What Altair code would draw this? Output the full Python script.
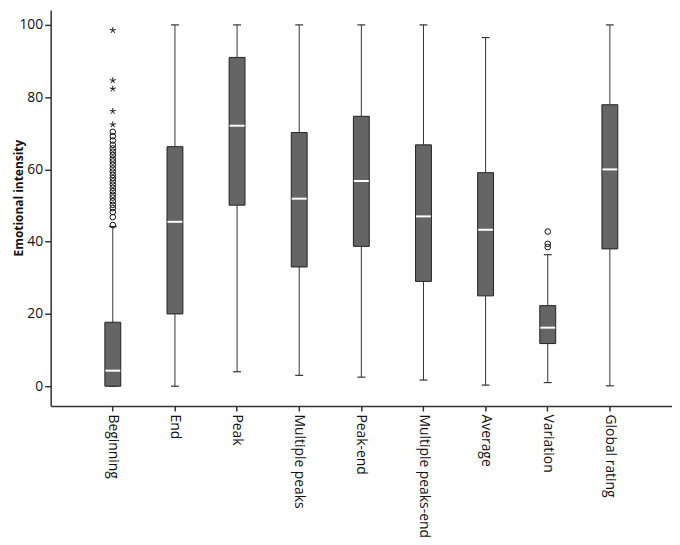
import altair as alt
import pandas as pd

categories = ["Beginning", "End", "Peak", "Multiple peaks", "Peak-end",
              "Multiple peaks-end", "Average", "Variation", "Global rating"]
lower_whisker = [0.0, 0.0, 4.0, 3.0, 2.5, 1.7, 0.3, 1.0, 0.1]
q1 = [0.0, 20.0, 50.1, 33.0, 38.7, 29.0, 25.0, 11.8, 38.0]
median = [4.3, 45.5, 72.1, 51.9, 56.8, 47.0, 43.3, 16.2, 60.0]
q3 = [17.7, 66.3, 91.0, 70.2, 74.7, 66.8, 59.1, 22.3, 77.9]
upper_whisker = [44.2, 100.0, 100.0, 100.0, 100.0, 100.0, 96.5, 36.4, 100.0]

beginning_outliers = [44.6, 46.8, 48.2, 49.3, 50.2, 51.2, 52.2, 53.0, 54.0, 54.9,
                      55.8, 56.7, 57.6, 58.5, 59.4, 60.3, 61.3, 62.2, 63.0, 64.0,
                      64.9, 65.8, 66.8, 68.0, 69.2, 70.4]
variation_outliers = [38.5, 39.4, 42.8]
beginning_extremes = [72.4, 76.1, 82.3, 84.6, 98.5]

box_df = pd.DataFrame({
    "category": categories,
    "lower": lower_whisker,
    "q1": q1,
    "median": median,
    "q3": q3,
    "upper": upper_whisker,
})
out_df = pd.DataFrame({
    "category": ["Beginning"] * len(beginning_outliers) + ["Variation"] * len(variation_outliers),
    "value": beginning_outliers + variation_outliers,
})
ext_df = pd.DataFrame({
    "category": ["Beginning"] * len(beginning_extremes),
    "value": beginning_extremes,
})

FONT = "Open Sans"
AX = "#333333"

x_axis = alt.Axis(
    title=None, labelAngle=90, labelAlign="left", labelBaseline="middle",
    labelFont=FONT, labelFontSize=14, labelColor="#111111", labelPadding=3,
    domainColor=AX, domainWidth=1.5, tickColor=AX, tickWidth=1.5, tickSize=5,
    grid=False,
)
y_axis = alt.Axis(
    values=[0, 20, 40, 60, 80, 100], labelFont=FONT, labelFontSize=14,
    labelColor="#111111", labelPadding=2, domainColor=AX, domainWidth=1.5,
    tickColor=AX, tickWidth=1.5, tickSize=6, grid=False,
    titleFont=FONT, titleFontSize=12, titleFontWeight="bold", titleColor="#111111",
    titleX=-32, titleY=189, titleAngle=-90, titleAlign="center", titleBaseline="middle",
)

x_scale = alt.Scale(type="band", paddingInner=0.5, paddingOuter=0.75)
y_scale = alt.Scale(domain=[-5.49, 104.12], nice=False, zero=False)
TITLE = "Emotional intensity"


def X():
    return alt.X("category:N", sort=categories, scale=x_scale, axis=x_axis)


def Y(field):
    return alt.Y(f"{field}:Q", scale=y_scale, axis=y_axis, title=TITLE)


base = alt.Chart(box_df)

low_rule = base.mark_rule(color=AX, strokeWidth=1).encode(x=X(), y=Y("lower"), y2="q1:Q")
up_rule = base.mark_rule(color=AX, strokeWidth=1).encode(x=X(), y=Y("q3"), y2="upper:Q")
low_cap = base.mark_tick(size=8, thickness=1.2, color=AX, opacity=1).encode(x=X(), y=Y("lower"))
up_cap = base.mark_tick(size=8, thickness=1.2, color=AX, opacity=1).encode(x=X(), y=Y("upper"))
box = base.mark_bar(size=16, fill="#656565", stroke="#222222", strokeWidth=1).encode(
    x=X(), y=Y("q1"), y2="q3:Q")
med = base.mark_tick(size=15, thickness=2, color="white", opacity=1).encode(x=X(), y=Y("median"))

outliers = alt.Chart(out_df).mark_point(
    shape="circle", filled=False, size=32, stroke="#111111", strokeWidth=1, opacity=1
).encode(x=X(), y=Y("value"))

star_path = ("M0,0L0,-1M0,0L0.951,-0.309M0,0L0.588,0.809"
             "M0,0L-0.588,0.809M0,0L-0.951,-0.309")
extremes = alt.Chart(ext_df).mark_point(
    shape=star_path, filled=False, size=40, stroke="#111111", strokeWidth=1, opacity=1
).encode(x=X(), y=Y("value"))

chart = alt.layer(low_rule, up_rule, low_cap, up_cap, box, med, outliers, extremes).properties(
    width=626, height=399,
    autosize=alt.AutoSizeParams(type="none"),
    padding={"left": 43, "top": 0, "right": 0, "bottom": 140},
    background="white",
).configure_view(stroke=None)

chart.save("out.html", embed_options={"renderer": "svg", "actions": False})
